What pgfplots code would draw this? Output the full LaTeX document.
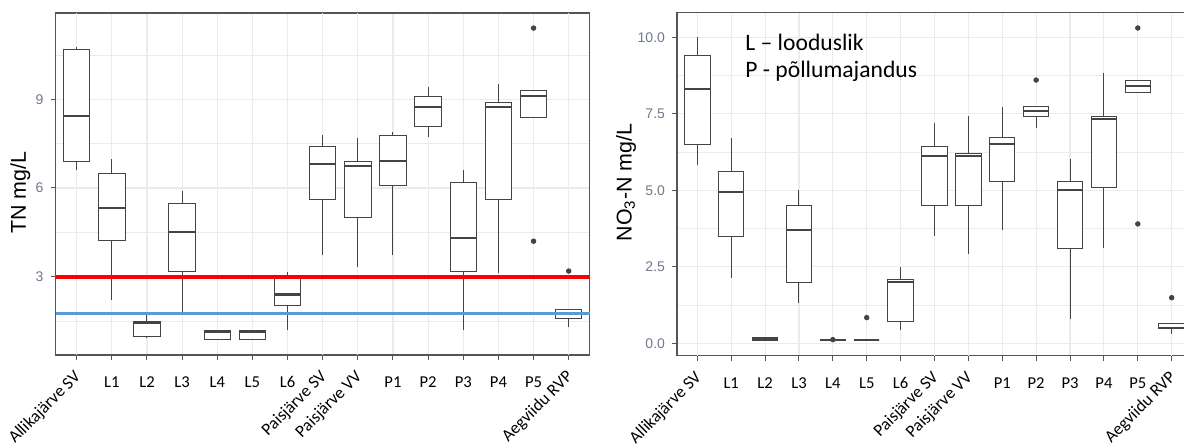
\documentclass[border=0pt]{standalone}
\usepackage{pgfplots}
\pgfplotsset{compat=1.18}
\usepgfplotslibrary{statistics}
\usepackage{fontspec}
\setmainfont{Carlito}
\newfontfamily\arial{Liberation Sans}
\definecolor{boxc}{HTML}{444444}
\definecolor{framec}{HTML}{555555}
\definecolor{gridc}{HTML}{EBEBEB}
\definecolor{tickc}{HTML}{6E7A8C}
\definecolor{bluel}{HTML}{5B9BD5}
\pgfplotsset{
  myax/.style={
    scale only axis,
    anchor=south west,
    xmin=-0.6, xmax=14.6,
    axis line style={draw=framec, line width=0.6pt},
    tick align=outside,
    tick pos=left,
    major tick length=2.5pt,
    minor tick length=0pt,
    tick style={draw=framec, line width=0.5pt},
    grid=major,
    yminorgrids=true,
    major grid style={draw=gridc, line width=0.55pt},
    minor grid style={draw=gridc, line width=0.3pt},
    xtick={1,2,3,4,5,6,9,10,11,12,13},
    xticklabels={L1,L2,L3,L4,L5,L6,P1,P2,P3,P4,P5},
    xticklabel style={font=\fontsize{8.3}{10}\selectfont, anchor=north, yshift=-4.8pt},
    extra x ticks={0,7,8,14},
    extra x tick labels={Allikajärve SV,Paisjärve SV,Paisjärve VV,Aegviidu RVP},
    extra x tick style={grid=major, xticklabel style={font=\fontsize{8.6}{10}\selectfont, yshift=5.2pt, xshift=-1.9pt, rotate=45, anchor=north east}},
    /pgf/number format/assume math mode=true,
    yticklabel style={font=\arial\fontsize{7}{8}\selectfont, text=tickc},
    ylabel style={font=\arial\fontsize{10.7}{12}\selectfont, anchor=center},
    boxplot/draw direction=y,
    boxplot/box extend=0.75,
    boxplot/whisker extend=0,
    boxplot/every median/.style={line width=1.1pt},
  },
  bx/.style={draw=boxc, fill=white, line width=0.5pt, mark=*, mark size=1.1pt, mark options={draw=boxc, fill=boxc}},
}
\begin{document}
\begin{tikzpicture}
\useasboundingbox (0,0) rectangle (592pt,222.5pt);
% ---------------- Left: TN ----------------
\begin{axis}[myax, at={(27.8pt,45pt)}, width=267.1pt, height=171pt,
  ymin=0.35, ymax=11.92, ytick={3,6,9}, minor ytick={1.5,4.5,7.5,10.5},
  ylabel={TN mg/L}, ylabel style={at={(axis description cs:-0.066,0.475)}}]
\addplot[bx, boxplot prepared={draw position=0, lower whisker=6.61, lower quartile=6.89, median=8.43, upper quartile=10.70, upper whisker=10.78}] coordinates {};
\addplot[bx, boxplot prepared={draw position=1, lower whisker=2.21, lower quartile=4.22, median=5.31, upper quartile=6.50, upper whisker=6.98}] coordinates {};
\addplot[bx, boxplot prepared={draw position=2, lower whisker=0.92, lower quartile=0.97, median=1.42, upper quartile=1.48, upper whisker=1.70}] coordinates {};
\addplot[bx, boxplot prepared={draw position=3, lower whisker=1.80, lower quartile=3.19, median=4.52, upper quartile=5.48, upper whisker=5.90}] coordinates {};
\addplot[bx, boxplot prepared={draw position=4, lower whisker=0.88, lower quartile=0.88, median=1.12, upper quartile=1.17, upper whisker=1.17}] coordinates {};
\addplot[bx, boxplot prepared={draw position=5, lower whisker=0.88, lower quartile=0.88, median=1.12, upper quartile=1.17, upper whisker=1.17}] coordinates {};
\addplot[bx, boxplot prepared={draw position=6, lower whisker=1.20, lower quartile=2.01, median=2.40, upper quartile=2.97, upper whisker=3.17}] coordinates {};
\addplot[bx, boxplot prepared={draw position=7, lower whisker=3.73, lower quartile=5.62, median=6.82, upper quartile=7.39, upper whisker=7.79}] coordinates {};
\addplot[bx, boxplot prepared={draw position=8, lower whisker=3.34, lower quartile=4.99, median=6.75, upper quartile=6.89, upper whisker=7.70}] coordinates {};
\addplot[bx, boxplot prepared={draw position=9, lower whisker=3.73, lower quartile=6.10, median=6.91, upper quartile=7.79, upper whisker=7.91}] coordinates {};
\addplot[bx, boxplot prepared={draw position=10, lower whisker=7.72, lower quartile=8.09, median=8.73, upper quartile=9.11, upper whisker=9.43}] coordinates {};
\addplot[bx, boxplot prepared={draw position=11, lower whisker=1.20, lower quartile=3.18, median=4.31, upper quartile=6.19, upper whisker=6.60}] coordinates {};
\addplot[bx, boxplot prepared={draw position=12, lower whisker=3.12, lower quartile=5.61, median=8.74, upper quartile=8.90, upper whisker=9.52}] coordinates {};
\addplot[bx, boxplot prepared={draw position=13, lower whisker=8.40, lower quartile=8.40, median=9.12, upper quartile=9.31, upper whisker=9.31}] table[row sep=\\, y index=0] {v\\ 11.41\\ 4.20\\};
\addplot[bx, boxplot prepared={draw position=14, lower whisker=1.31, lower quartile=1.59, median=1.76, upper quartile=1.90, upper whisker=1.90}] table[row sep=\\, y index=0] {v\\ 3.19\\};
\addplot[red, line width=2pt] coordinates {(-0.6,3) (14.6,3)};
\addplot[bluel, line width=1.8pt] coordinates {(-0.6,1.76) (14.6,1.76)};
\end{axis}
% ---------------- Right: NO3-N ----------------
\begin{axis}[myax, at={(338.5pt,44.65pt)}, width=257.5pt, height=171.5pt,
  ymin=-0.405, ymax=10.80, ytick={0,2.5,5,7.5,10}, minor ytick={1.25,3.75,6.25,8.75},
  yticklabel style={/pgf/number format/.cd, fixed, fixed zerofill, precision=1},
  ylabel={NO\textsubscript{3}-N mg/L}, ylabel style={at={(axis description cs:-0.099,0.505)}}]
\addplot[bx, boxplot prepared={draw position=0, lower whisker=5.83, lower quartile=6.49, median=8.32, upper quartile=9.40, upper whisker=10.0}] coordinates {};
\addplot[bx, boxplot prepared={draw position=1, lower whisker=2.12, lower quartile=3.48, median=4.93, upper quartile=5.60, upper whisker=6.70}] coordinates {};
\addplot[bx, boxplot prepared={draw position=2, lower whisker=0.09, lower quartile=0.09, median=0.14, upper quartile=0.19, upper whisker=0.19}] coordinates {};
\addplot[bx, boxplot prepared={draw position=3, lower whisker=1.33, lower quartile=1.99, median=3.70, upper quartile=4.49, upper whisker=5.01}] coordinates {};
\addplot[bx, boxplot prepared={draw position=4, lower whisker=0.10, lower quartile=0.10, median=0.10, upper quartile=0.10, upper whisker=0.10}] table[row sep=\\, y index=0] {v\\ 0.12\\};
\addplot[bx, boxplot prepared={draw position=5, lower whisker=0.10, lower quartile=0.10, median=0.10, upper quartile=0.10, upper whisker=0.10}] table[row sep=\\, y index=0] {v\\ 0.84\\};
\addplot[bx, boxplot prepared={draw position=6, lower whisker=0.43, lower quartile=0.71, median=2.01, upper quartile=2.09, upper whisker=2.50}] coordinates {};
\addplot[bx, boxplot prepared={draw position=7, lower whisker=3.51, lower quartile=4.49, median=6.12, upper quartile=6.42, upper whisker=7.21}] coordinates {};
\addplot[bx, boxplot prepared={draw position=8, lower whisker=2.91, lower quartile=4.49, median=6.13, upper quartile=6.19, upper whisker=7.43}] coordinates {};
\addplot[bx, boxplot prepared={draw position=9, lower whisker=3.70, lower quartile=5.28, median=6.51, upper quartile=6.71, upper whisker=7.71}] coordinates {};
\addplot[bx, boxplot prepared={draw position=10, lower whisker=7.03, lower quartile=7.41, median=7.59, upper quartile=7.72, upper whisker=7.72}] table[row sep=\\, y index=0] {v\\ 8.60\\};
\addplot[bx, boxplot prepared={draw position=11, lower whisker=0.79, lower quartile=3.10, median=5.01, upper quartile=5.29, upper whisker=6.01}] coordinates {};
\addplot[bx, boxplot prepared={draw position=12, lower whisker=3.12, lower quartile=5.09, median=7.33, upper quartile=7.41, upper whisker=8.82}] coordinates {};
\addplot[bx, boxplot prepared={draw position=13, lower whisker=8.18, lower quartile=8.18, median=8.41, upper quartile=8.60, upper whisker=8.60}] table[row sep=\\, y index=0] {v\\ 10.30\\ 3.90\\};
\addplot[bx, boxplot prepared={draw position=14, lower whisker=0.29, lower quartile=0.49, median=0.51, upper quartile=0.65, upper whisker=0.65}] table[row sep=\\, y index=0] {v\\ 1.49\\};
\node[anchor=base west, font=\fontsize{11.8}{14}\selectfont, inner sep=0pt] at (rel axis cs:0.132,0.891) {L -- looduslik};
\node[anchor=base west, font=\fontsize{11.8}{14}\selectfont, inner sep=0pt] at (rel axis cs:0.132,0.81) {P - põllumajandus};
\end{axis}
\end{tikzpicture}
\end{document}
